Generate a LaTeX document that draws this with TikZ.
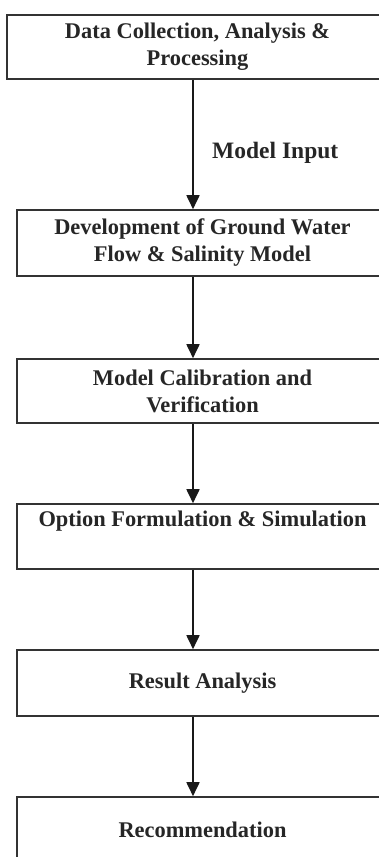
\documentclass[tikz,border=0pt]{standalone}
\usepackage{fontspec}
\setmainfont{Liberation Serif}
\usetikzlibrary{arrows.meta}
\begin{document}
\begin{tikzpicture}[x=1pt,y=-1pt,
  stepbox/.style={draw=black!80,line width=1.6pt,rectangle,inner sep=0pt,
    text=black!85,align=center,
    font=\fontsize{22.4}{27}\selectfont\bfseries},
  flow/.style={draw=black!90,line width=1.8pt,-{Triangle[length=14pt,width=13pt]}},
  lbl/.style={text=black!85,font=\fontsize{23.5}{28}\selectfont\bfseries,inner sep=0pt,anchor=west}]
\useasboundingbox (0,0) rectangle (379,857);
\clip (0,0) rectangle (379,857);
\fill[white] (0,0) rectangle (379,857);
\coordinate (ax) at (193,0);
\node[stepbox,minimum width=381pt,minimum height=64pt] (b1) at (197.5,47) {Data Collection, Analysis \&\\Processing};
\node[stepbox,minimum width=371pt,minimum height=66pt] (b2) at (202.5,243) {Development of Ground Water\\Flow \& Salinity Model};
\node[stepbox,minimum width=371pt,minimum height=64pt] (b3) at (202.5,391) {Model Calibration and\\Verification};
\node[stepbox,minimum width=371pt,minimum height=65pt] (b4) at (202.5,536.5) {Option Formulation \& Simulation\\\strut};
\node[stepbox,minimum width=371pt,minimum height=66pt] (b5) at (202.5,683) {Result Analysis};
\node[stepbox,minimum width=371pt,minimum height=66pt] (b6) at (202.5,830) {Recommendation};
\node[lbl] (mi) at (212,153) {Model Input};
\draw[flow] (b1.south -| ax) -- (b2.north -| ax);
\draw[flow] (b2.south -| ax) -- (b3.north -| ax);
\draw[flow] (b3.south -| ax) -- (b4.north -| ax);
\draw[flow] (b4.south -| ax) -- (b5.north -| ax);
\draw[flow] (b5.south -| ax) -- (b6.north -| ax);
\end{tikzpicture}
\end{document}
